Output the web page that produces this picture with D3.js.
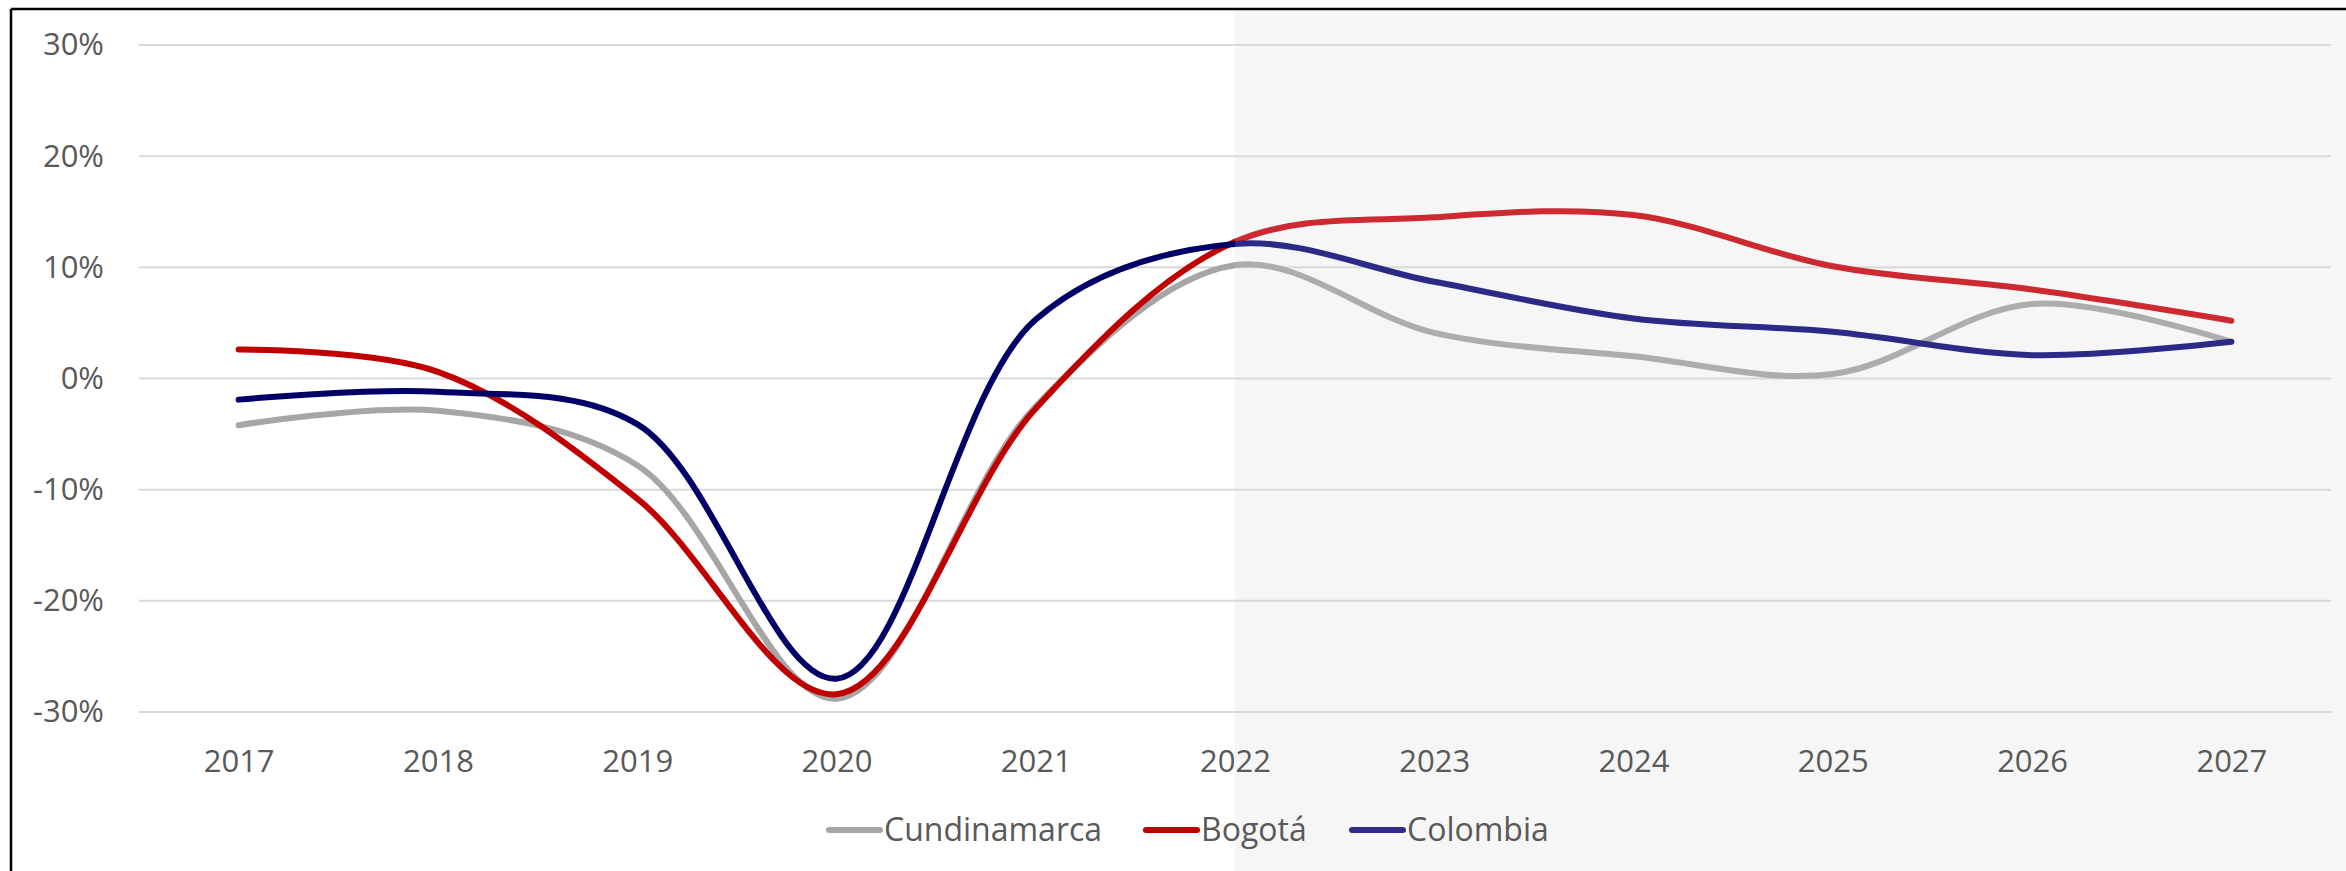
<!DOCTYPE html>
<html>
<head>
<meta charset="utf-8">
<script src="https://cdn.jsdelivr.net/npm/d3@7"></script>
<style>
  body { margin: 0; background: #fff; }
  text { font-family: "Open Sans", "Liberation Sans", Arial, sans-serif; fill: #595959; }
</style>
</head>
<body>
<div id="chart"></div>
<script>
// data (% growth)
var years = ["2017", "2018", "2019", "2020", "2021", "2022", "2023", "2024", "2025", "2026", "2027"];
var cundinamarca = [-4.2, -2.9, -7.8, -28.8, -2.5, 10.2, 4.1, 2.0, 0.4, 6.7, 3.3];
var bogota = [2.6, 0.6, -10.8, -28.4, -2.7, 12.3, 14.5, 14.7, 10.1, 8.0, 5.2];
var colombia = [-1.9, -1.2, -4.1, -27.0, 5.3, 12.1, 8.7, 5.4, 4.2, 2.1, 3.3];
var yTicks = [-30, -20, -10, 0, 10, 20, 30];
var forecastStart = "2022";

var series = [
  {name: "Cundinamarca", values: cundinamarca, color: "#A6A6A6", colorForecast: "#ADADAD"},
  {name: "Bogotá", values: bogota, color: "#C00000", colorForecast: "#CC2A30"},
  {name: "Colombia", values: colombia, color: "#000066", colorForecast: "#2B2A87"}
];

var W = 2346, H = 871;
var margin = {top: 45, right: 15, bottom: 159, left: 139};
var width = W - margin.left - margin.right,
    height = H - margin.top - margin.bottom;

var svg = d3.select("#chart")
    .append("svg")
    .attr("width", W)
    .attr("height", H);

var x = d3.scalePoint()
    .domain(years)
    .range([margin.left, margin.left + width])
    .padding(0.5);

var y = d3.scaleLinear()
    .domain([-30, 30])
    .range([margin.top + height, margin.top]);

// forecast shading
svg.append("rect")
    .attr("x", x(forecastStart))
    .attr("y", 9)
    .attr("width", W - x(forecastStart))
    .attr("height", H - 9)
    .attr("fill", "#F6F6F6");

// gridlines
svg.append("g")
    .selectAll("line")
    .data(yTicks)
    .enter()
    .append("line")
    .attr("x1", margin.left)
    .attr("x2", margin.left + width)
    .attr("y1", function(d) { return y(d); })
    .attr("y2", function(d) { return y(d); })
    .attr("stroke", "#D9D9D9")
    .attr("stroke-width", 2);

// Y axis
var yAxis = svg.append("g")
    .attr("transform", "translate(" + margin.left + ",0)")
    .call(d3.axisLeft(y).tickValues(yTicks).tickSize(0).tickPadding(35)
        .tickFormat(function(d) { return d + "%"; }));
yAxis.select(".domain").remove();
yAxis.selectAll("text")
    .style("font-size", "31px")
    .attr("fill", "#595959");

// X axis
var xAxis = svg.append("g")
    .attr("transform", "translate(0," + (margin.top + height) + ")")
    .call(d3.axisBottom(x).tickSize(0).tickPadding(38));
xAxis.select(".domain").remove();
xAxis.selectAll("text")
    .style("font-size", "31px")
    .attr("fill", "#595959");

// clip paths for actual vs forecast part
var defs = svg.append("defs");
defs.append("clipPath").attr("id", "clipHist")
    .append("rect")
    .attr("x", 0).attr("y", 0)
    .attr("width", x(forecastStart)).attr("height", H);
defs.append("clipPath").attr("id", "clipFcst")
    .append("rect")
    .attr("x", x(forecastStart)).attr("y", 0)
    .attr("width", W - x(forecastStart)).attr("height", H);

var line = d3.line()
    .x(function(d, i) { return x(years[i]); })
    .y(function(d) { return y(d); })
    .curve(d3.curveCatmullRom.alpha(0.5));

series.forEach(function(s) {
    svg.append("path")
        .datum(s.values)
        .attr("clip-path", "url(#clipHist)")
        .attr("d", line)
        .attr("fill", "none")
        .attr("stroke", s.color)
        .attr("stroke-width", 6)
        .attr("stroke-linecap", "round");
    svg.append("path")
        .datum(s.values)
        .attr("clip-path", "url(#clipFcst)")
        .attr("d", line)
        .attr("fill", "none")
        .attr("stroke", s.colorForecast)
        .attr("stroke-width", 6)
        .attr("stroke-linecap", "round");
});

// legend
var legendColors = ["#A6A6A6", "#C00000", "#2E2E8A"];
var legendX = [826, 1143, 1349];
var legend = svg.append("g");
series.forEach(function(s, i) {
    legend.append("line")
        .attr("x1", legendX[i] + 3)
        .attr("x2", legendX[i] + 54)
        .attr("y1", 830)
        .attr("y2", 830)
        .attr("stroke", legendColors[i])
        .attr("stroke-width", 6)
        .attr("stroke-linecap", "round");
    legend.append("text")
        .attr("x", legendX[i] + 58)
        .attr("y", 841)
        .style("font-size", "32px")
        .text(s.name);
});

// frame (left and top edges)
svg.append("line")
    .attr("x1", 11).attr("x2", 11).attr("y1", 9).attr("y2", H)
    .attr("stroke", "#000").attr("stroke-width", 2.5);
svg.append("line")
    .attr("x1", 11).attr("x2", W).attr("y1", 9).attr("y2", 9)
    .attr("stroke", "#000").attr("stroke-width", 2.5);
</script>
</body>
</html>
